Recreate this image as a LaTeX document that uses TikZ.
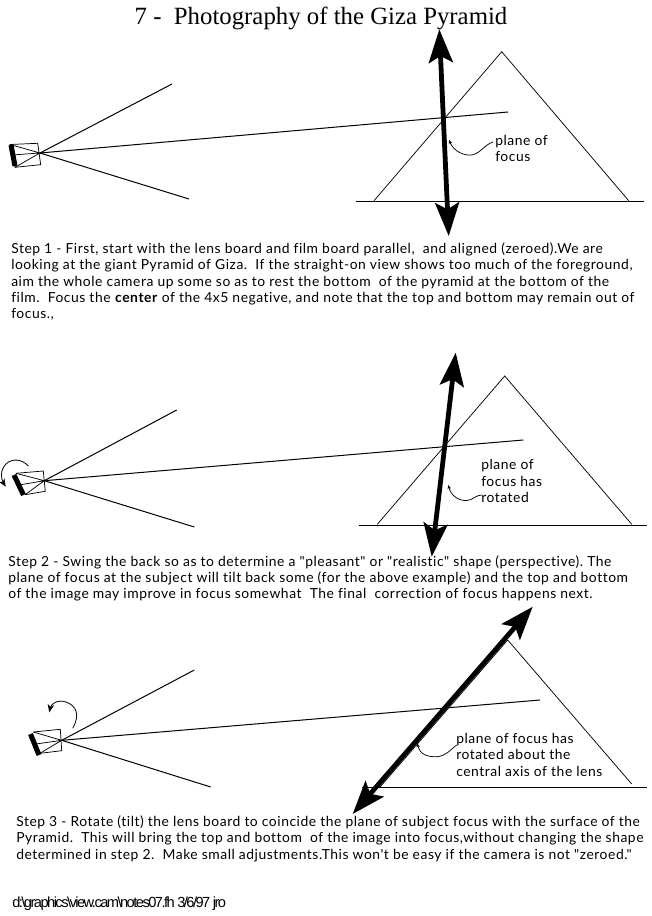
\documentclass[tikz,border=0pt]{standalone}
\usepackage{fontspec}
\setmainfont[Ligatures={TeXOff,CommonOff},LetterSpace=3.9]{Lato}
\newfontfamily\titlefont{Liberation Serif}
\newfontfamily\pathfont[LetterSpace=-10.5]{Liberation Sans}
\usetikzlibrary{arrows.meta}
\tikzset{
  ray/.style={line width=0.75pt},
  thinline/.style={line width=0.55pt},
  filmboard/.style={line width=3.8pt},
  focusarrow/.style={line width=3.6pt, {Stealth[length=25pt,width=18pt,inset=5pt]}-{Stealth[length=25pt,width=18pt,inset=5pt]}},
  turnarrow/.style={line width=0.6pt, -{Stealth[length=6pt,width=5pt]}},
  pointer/.style={line width=0.55pt, {Stealth[length=3pt,width=2.5pt]}-},
  note/.style={font=\fontsize{10.4}{12.2}\selectfont, align=left, anchor=north west, inner sep=0pt},
  steptext/.style={font=\fontsize{10.4}{12.2}\selectfont, align=left, anchor=north west, inner sep=0pt}
}
\begin{document}
\begin{tikzpicture}[x=0.75pt, y=-0.75pt]
\useasboundingbox (0,0) rectangle (652,916);
\node[font=\titlefont\fontsize{18.6}{22}\selectfont] (title) at (321,18) {7 -\ \ Photography of the Giza Pyramid};
%--- Panel 1: zeroed ---
\begin{scope}
  \coordinate (lensA) at (40,153);
  \draw[thinline] (10,144.5) -- (37.7,143.3) -- (40.7,164.7) -- (15,167.3) -- cycle;
  \draw[thinline] (10,144.5) -- (lensA) (12,155) -- (lensA) (15,167.3) -- (lensA);
  \draw[filmboard] (11,145) -- (15,166);
  \draw[ray] (lensA) -- (172,84);
  \draw[ray] (lensA) -- (508,112);
  \draw[ray] (lensA) -- (189,199);
  % Pyramid
  \draw[thinline] (374,200.7) -- (501.7,51.7) -- (628.7,200.7);
  \draw[ray] (356,201.5) -- (644,201.5);
  % Plane of focus
  \draw[focusarrow] (439.3,29.3) -- (448.7,236);
  \draw[pointer] (449,140) .. controls (454,152) and (465,156) .. (472,155) .. controls (481,153) and (484,145) .. (493,142);
  \node[note] (noteA) at (495,135) {plane of\\focus};
\end{scope}
\node[steptext] (stepA) at (11,242.5) {Step 1 - First, start with the lens board and film board parallel,\ \ and aligned (zeroed).We are\\
looking at the giant Pyramid of Giza.\ \ If the straight-on view shows too much of the foreground,\\
aim the whole camera up some so as to rest the bottom\ \ of the pyramid at the bottom of the\\
film.\ \ Focus the \textbf{center} of the 4x5 negative, and note that the top and bottom may remain out of\\
focus.,};
%--- Panel 2: back swung ---
\begin{scope}
  \coordinate (lensB) at (44.3,480.7);
  \draw[thinline] (16,473.3) -- (43.3,471) -- (45.3,491.3) -- (25,494.7);
  \draw[thinline] (16,473.3) -- (lensB) (19,485) -- (lensB) (25,494.7) -- (lensB);
  \draw[filmboard] (14,475) -- (23.5,495);
  \draw[ray] (lensB) -- (176.7,410);
  \draw[ray] (lensB) -- (523.3,440);
  \draw[ray] (lensB) -- (194.3,527);
  \draw[turnarrow] (28.3,466) .. controls (22,459) and (12,458) .. (6,464) .. controls (0,470) and (1,479) .. (5.7,486.7);
  % Pyramid
  \draw[thinline] (377.3,524.3) -- (504.7,376) -- (631.7,524.3);
  \draw[ray] (359,525.3) -- (646.7,525.3);
  % Plane of focus
  \draw[focusarrow] (455.7,352.7) -- (431.7,556.7);
  \draw[pointer] (448.3,485) .. controls (451,496) and (459,501) .. (467,500.5) .. controls (473,500) and (476,495) .. (481.7,495);
  \node[note] (noteB) at (481,459.5) {plane of\\focus has\\rotated};
\end{scope}
\node[steptext] (stepB) at (8,555) {Step 2 - Swing the back so as to determine a "pleasant" or "realistic" shape (perspective).\ The\\
plane of focus at the subject will tilt back some (for the above example) and the top and bottom\\
of the image may improve in focus somewhat\ \ The final\ \ correction of focus happens next.};
%--- Panel 3: lens tilted ---
\begin{scope}
  \coordinate (lensC) at (61.7,740.3);
  \draw[thinline] (33.3,732) -- (60.3,729.3) -- (61.7,750.7) -- (40,753.3);
  \draw[thinline] (33.3,732) -- (lensC) (36,744) -- (lensC) (40,753.3) -- (lensC);
  \draw[filmboard] (30.5,734) -- (39,755);
  \draw[ray] (lensC) -- (194.3,670);
  \draw[ray] (lensC) -- (540,700);
  \draw[ray] (lensC) -- (210.7,787);
  \draw[turnarrow] (72.7,728.3) .. controls (80,715) and (77,706) .. (66,702) .. controls (58,699) and (51,704) .. (49.3,712.3);
  % Pyramid
  \draw[thinline] (380,787) -- (507.7,640) -- (631.7,784);
  \draw[ray] (361.7,787.3) -- (646.7,787.3);
  % Plane of focus
  \draw[focusarrow] (532.7,606.7) -- (352.7,814);
  \draw[pointer] (417.3,743.3) .. controls (420,755) and (428,757) .. (437,756.7) .. controls (446,756) and (450,750) .. (456.7,745);
  \node[note] (noteC) at (456,733) {plane of focus has\\rotated about the\\central axis of the lens};
\end{scope}
\node[steptext] (stepC) at (16,815.5) {Step 3 - Rotate (tilt) the lens board to coincide the plane of subject focus with the surface of the\\
Pyramid.\ \ This will bring the top and bottom\ \ of the image into focus,without changing the shape\\
determined in step 2.\ \ Make small adjustments.This won't be easy if the camera is not "zeroed."};
\node[anchor=west, inner sep=0pt, font=\pathfont\fontsize{11}{13}\selectfont] (pathnote) at (12,904) {d:\textbackslash graphics\textbackslash view.cam\textbackslash notes07.fh 3/6/97 jro};
\end{tikzpicture}
\end{document}
